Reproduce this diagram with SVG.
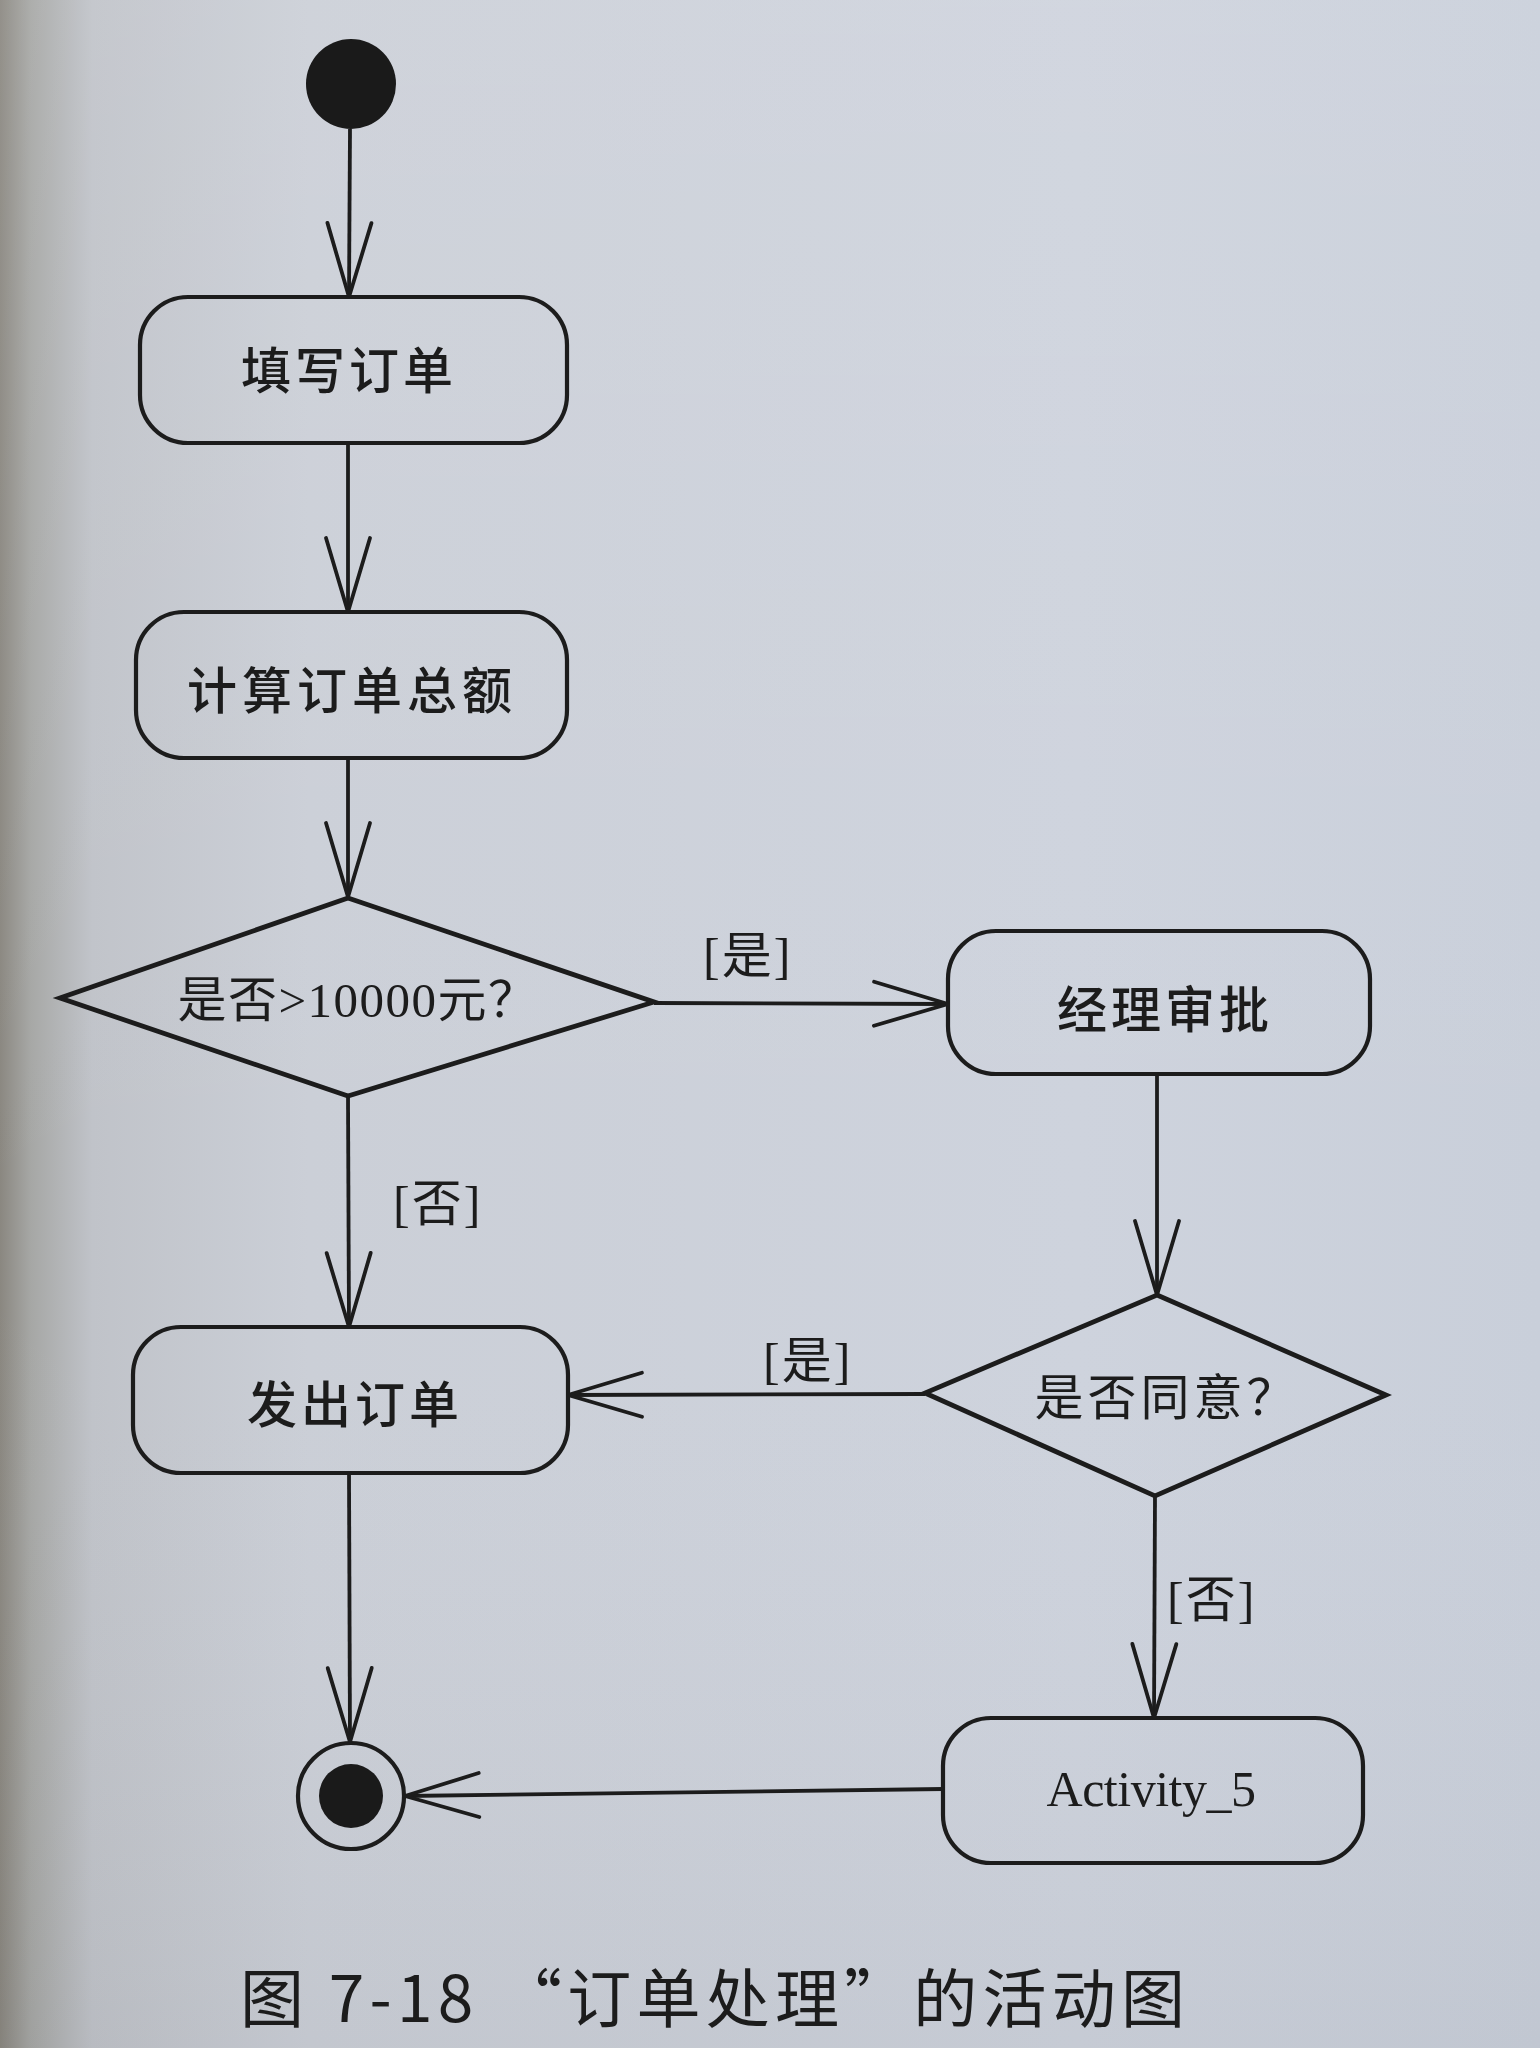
<svg xmlns="http://www.w3.org/2000/svg" width="1540" height="2048" viewBox="0 0 1540 2048">
  <defs>
    <linearGradient id="bgH" x1="0" y1="0" x2="1" y2="0">
      <stop offset="0" stop-color="#8a8780"/>
      <stop offset="0.02" stop-color="#a6a7a5"/>
      <stop offset="0.06" stop-color="#c0c3c9"/>
      <stop offset="0.2" stop-color="#cbcfd7"/>
      <stop offset="0.7" stop-color="#ced3dd"/>
      <stop offset="1" stop-color="#c9cfda"/>
    </linearGradient>
    <linearGradient id="bgV" x1="0" y1="0" x2="0" y2="1">
      <stop offset="0" stop-color="#ffffff" stop-opacity="0.08"/>
      <stop offset="0.6" stop-color="#ffffff" stop-opacity="0"/>
      <stop offset="1" stop-color="#000000" stop-opacity="0.04"/>
    </linearGradient>
    <marker id="arr" markerUnits="userSpaceOnUse" viewBox="0 0 90 60" markerWidth="90" markerHeight="60" refX="80" refY="30" orient="auto">
      <path d="M 6 8 L 80 30 L 6 52" fill="none" stroke="#1c1c1c" stroke-width="3.8" stroke-linejoin="round" stroke-linecap="round"/>
    </marker>
  </defs>
  <style>
    .act { fill: none; stroke: #1c1c1c; stroke-width: 4.2; }
    .dec { fill: none; stroke: #1c1c1c; stroke-width: 4.8; stroke-linejoin: miter; }
    .edge { fill: none; stroke: #1c1c1c; stroke-width: 3.8; marker-end: url(#arr); }
    .ntxt { font-family: "Noto Sans CJK SC", sans-serif; font-size: 50px; font-weight: 500; fill: #1c1c1c; text-anchor: middle; dominant-baseline: central; }
    .dtxt { font-family: "Liberation Serif", "Noto Sans CJK SC", serif; font-size: 49px; fill: #1c1c1c; text-anchor: middle; dominant-baseline: central; }
    .lbl { font-family: "Liberation Serif", "Noto Sans CJK SC", serif; font-size: 50px; fill: #1c1c1c; letter-spacing: 2px; }
    .cap { font-family: "Noto Sans CJK SC", sans-serif; font-size: 64px; font-weight: 400; fill: #1c1c1c; }
  </style>
  <rect x="0" y="0" width="1540" height="2048" fill="url(#bgH)"/>
  <rect x="0" y="0" width="1540" height="2048" fill="url(#bgV)"/>

  <g id="connectors">
    <line class="edge" x1="350" y1="129" x2="349" y2="297"/>
    <line class="edge" x1="348" y1="443" x2="348" y2="612"/>
    <line class="edge" x1="348" y1="758" x2="348" y2="897"/>
    <line class="edge" x1="654" y1="1003" x2="948" y2="1004"/>
    <line class="edge" x1="348" y1="1096" x2="349" y2="1327"/>
    <line class="edge" x1="1157" y1="1074" x2="1157" y2="1295"/>
    <line class="edge" x1="925" y1="1394" x2="568" y2="1395"/>
    <line class="edge" x1="1155" y1="1496" x2="1154" y2="1718"/>
    <line class="edge" x1="349" y1="1473" x2="350" y2="1742"/>
    <line class="edge" x1="943" y1="1789" x2="405" y2="1796"/>
    <text class="lbl" x="703" y="973">[是]</text>
    <text class="lbl" x="393" y="1221">[否]</text>
    <text class="lbl" x="763" y="1378">[是]</text>
    <text class="lbl" x="1167" y="1617">[否]</text>
  </g>

  <g id="start">
    <circle cx="351" cy="84" r="45" fill="#1a1a1a"/>
  </g>
  <g id="n1">
    <rect class="act" x="140" y="297" width="427" height="146" rx="48" ry="48"/>
    <text class="ntxt" x="349" y="367" letter-spacing="4">填写订单</text>
  </g>
  <g id="n2">
    <rect class="act" x="136" y="612" width="431" height="146" rx="48" ry="48"/>
    <text class="ntxt" x="352" y="687" letter-spacing="5">计算订单总额</text>
  </g>
  <g id="d1">
    <polygon class="dec" points="348,898 654,1002 348,1096 60,998"/>
    <text class="dtxt" x="358" y="1000" letter-spacing="1.5">是否&gt;10000元？</text>
  </g>
  <g id="n3">
    <rect class="act" x="948" y="931" width="422" height="143" rx="48" ry="48"/>
    <text class="ntxt" x="1165" y="1006" letter-spacing="4">经理审批</text>
  </g>
  <g id="d2">
    <polygon class="dec" points="1157,1295 1386,1395 1155,1496 925,1393"/>
    <text class="dtxt" x="1167" y="1398" letter-spacing="4">是否同意？</text>
  </g>
  <g id="n4">
    <rect class="act" x="133" y="1327" width="435" height="146" rx="48" ry="48"/>
    <text class="ntxt" x="355" y="1401" letter-spacing="4">发出订单</text>
  </g>
  <g id="n5">
    <rect class="act" x="943" y="1718" width="420" height="145" rx="48" ry="48"/>
    <text x="1151" y="1806" font-family="Liberation Serif, serif" font-size="50" fill="#1c1c1c" text-anchor="middle" letter-spacing="-0.5">Activity_5</text>
  </g>
  <g id="end">
    <circle cx="351" cy="1796" r="53" fill="none" stroke="#1c1c1c" stroke-width="4.2"/>
    <circle cx="351" cy="1796" r="32" fill="#1a1a1a"/>
  </g>

  <text class="cap" x="240" y="2022" textLength="945" lengthAdjust="spacing">图 7-18 “订单处理”的活动图</text>
</svg>
